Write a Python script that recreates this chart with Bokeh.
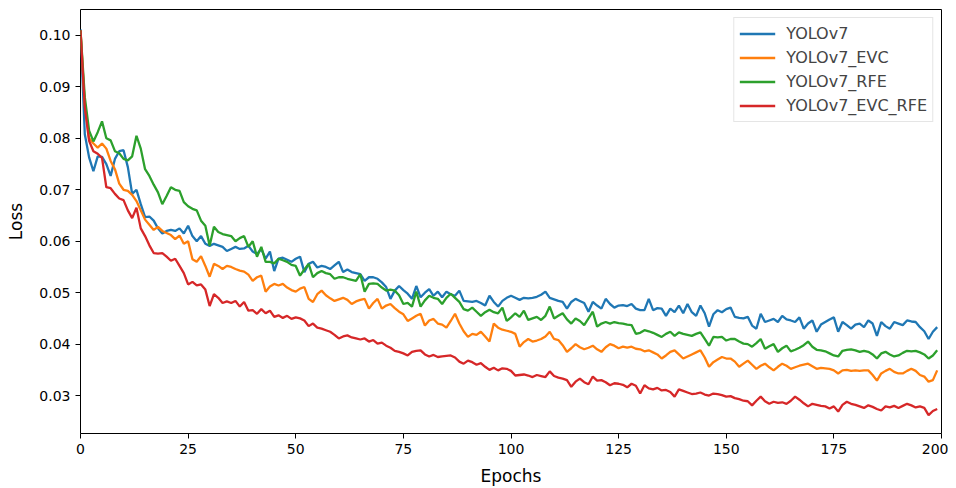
from bokeh.plotting import figure
from bokeh.models import Legend, LegendItem, Range1d, FixedTicker
from bokeh.embed import file_html
from bokeh.resources import INLINE

epochs = list(range(200))

yolov7 = [
    0.1012, 0.0808, 0.0763, 0.0736, 0.0765, 0.0764, 0.0750, 0.0727, 0.0760, 0.0775,
    0.0777, 0.0744, 0.0692, 0.0700, 0.0672, 0.0647, 0.0648, 0.0640, 0.0625, 0.0615,
    0.0620, 0.0622, 0.0620, 0.0625, 0.0615, 0.0630, 0.0610, 0.0600, 0.0610, 0.0595,
    0.0591, 0.0595, 0.0592, 0.0589, 0.0581, 0.0585, 0.0589, 0.0585, 0.0586, 0.0591,
    0.0580, 0.0575, 0.0585, 0.0566, 0.0580, 0.0542, 0.0566, 0.0568, 0.0564, 0.0560,
    0.0566, 0.0570, 0.0540, 0.0556, 0.0560, 0.0549, 0.0552, 0.0550, 0.0546, 0.0553,
    0.0560, 0.0540, 0.0545, 0.0540, 0.0538, 0.0536, 0.0523, 0.0530, 0.0530, 0.0527,
    0.0520, 0.0511, 0.0488, 0.0504, 0.0513, 0.0505, 0.0498, 0.0488, 0.0513, 0.0491,
    0.0500, 0.0507, 0.0494, 0.0502, 0.0491, 0.0502, 0.0497, 0.0494, 0.0504, 0.0484,
    0.0483, 0.0482, 0.0484, 0.0480, 0.0475, 0.0494, 0.0482, 0.0473, 0.0484, 0.0490,
    0.0494, 0.0490, 0.0486, 0.0490, 0.0489, 0.0490, 0.0492, 0.0496, 0.0502, 0.0490,
    0.0487, 0.0484, 0.0482, 0.0469, 0.0482, 0.0488, 0.0484, 0.0480, 0.0463, 0.0482,
    0.0475, 0.0469, 0.0488, 0.0478, 0.0471, 0.0475, 0.0476, 0.0474, 0.0478, 0.0469,
    0.0466, 0.0466, 0.0488, 0.0466, 0.0470, 0.0469, 0.0455, 0.0469, 0.0462, 0.0475,
    0.0460, 0.0478, 0.0462, 0.0455, 0.0475, 0.0460, 0.0434, 0.0458, 0.0466, 0.0462,
    0.0468, 0.0471, 0.0453, 0.0451, 0.0450, 0.0453, 0.0436, 0.0430, 0.0459, 0.0443,
    0.0446, 0.0449, 0.0443, 0.0455, 0.0448, 0.0446, 0.0443, 0.0452, 0.0430, 0.0440,
    0.0446, 0.0424, 0.0438, 0.0443, 0.0448, 0.0452, 0.0424, 0.0443, 0.0437, 0.0430,
    0.0438, 0.0440, 0.0433, 0.0446, 0.0440, 0.0416, 0.0443, 0.0435, 0.0430, 0.0443,
    0.0440, 0.0437, 0.0446, 0.0444, 0.0443, 0.0433, 0.0425, 0.0410, 0.0424, 0.0433,
]

yolov7_evc = [
    0.1010, 0.0866, 0.0800, 0.0790, 0.0782, 0.0790, 0.0780, 0.0756, 0.0740, 0.0712,
    0.0700, 0.0698, 0.0690, 0.0678, 0.0660, 0.0642, 0.0632, 0.0622, 0.0628, 0.0620,
    0.0616, 0.0612, 0.0604, 0.0611, 0.0595, 0.0600, 0.0565, 0.0560, 0.0571, 0.0552,
    0.0531, 0.0556, 0.0552, 0.0546, 0.0552, 0.0550, 0.0546, 0.0543, 0.0541, 0.0535,
    0.0523, 0.0530, 0.0533, 0.0502, 0.0512, 0.0517, 0.0514, 0.0517, 0.0510, 0.0505,
    0.0502, 0.0508, 0.0511, 0.0488, 0.0482, 0.0497, 0.0504, 0.0495, 0.0489, 0.0484,
    0.0487, 0.0490, 0.0486, 0.0478, 0.0483, 0.0486, 0.0488, 0.0469, 0.0480, 0.0488,
    0.0469, 0.0475, 0.0478, 0.0470, 0.0463, 0.0458, 0.0445, 0.0450, 0.0455, 0.0459,
    0.0436, 0.0446, 0.0449, 0.0440, 0.0438, 0.0432, 0.0445, 0.0459, 0.0440, 0.0425,
    0.0414, 0.0420, 0.0418, 0.0424, 0.0415, 0.0405, 0.0440, 0.0432, 0.0428, 0.0426,
    0.0424, 0.0420, 0.0395, 0.0404, 0.0410, 0.0405, 0.0407, 0.0410, 0.0415, 0.0424,
    0.0410, 0.0408, 0.0398, 0.0385, 0.0392, 0.0400, 0.0394, 0.0390, 0.0393, 0.0397,
    0.0390, 0.0385, 0.0394, 0.0400, 0.0397, 0.0392, 0.0395, 0.0393, 0.0395, 0.0391,
    0.0390, 0.0386, 0.0388, 0.0384, 0.0380, 0.0372, 0.0378, 0.0385, 0.0388, 0.0380,
    0.0372, 0.0376, 0.0380, 0.0384, 0.0388, 0.0374, 0.0356, 0.0365, 0.0370, 0.0375,
    0.0372, 0.0372, 0.0366, 0.0356, 0.0362, 0.0368, 0.0360, 0.0352, 0.0358, 0.0362,
    0.0355, 0.0349, 0.0356, 0.0362, 0.0358, 0.0352, 0.0355, 0.0358, 0.0360, 0.0362,
    0.0357, 0.0352, 0.0354, 0.0353, 0.0352, 0.0349, 0.0343, 0.0349, 0.0350, 0.0348,
    0.0349, 0.0348, 0.0349, 0.0349, 0.0340, 0.0329, 0.0343, 0.0348, 0.0352, 0.0346,
    0.0343, 0.0343, 0.0348, 0.0352, 0.0348, 0.0340, 0.0337, 0.0327, 0.0330, 0.0349,
]

yolov7_rfe = [
    0.1010, 0.0880, 0.0815, 0.0794, 0.0812, 0.0833, 0.0800, 0.0796, 0.0775, 0.0771,
    0.0760, 0.0757, 0.0765, 0.0805, 0.0780, 0.0740, 0.0727, 0.0710, 0.0695, 0.0672,
    0.0688, 0.0705, 0.0700, 0.0698, 0.0676, 0.0668, 0.0663, 0.0660, 0.0640, 0.0630,
    0.0591, 0.0628, 0.0618, 0.0614, 0.0612, 0.0610, 0.0600, 0.0606, 0.0610, 0.0589,
    0.0600, 0.0570, 0.0589, 0.0560, 0.0560, 0.0557, 0.0566, 0.0563, 0.0560, 0.0554,
    0.0552, 0.0533, 0.0545, 0.0556, 0.0530, 0.0538, 0.0542, 0.0538, 0.0536, 0.0527,
    0.0530, 0.0530, 0.0527, 0.0525, 0.0523, 0.0536, 0.0502, 0.0517, 0.0518, 0.0517,
    0.0510, 0.0504, 0.0506, 0.0504, 0.0495, 0.0478, 0.0480, 0.0473, 0.0502, 0.0473,
    0.0485, 0.0494, 0.0490, 0.0488, 0.0478, 0.0490, 0.0498, 0.0490, 0.0482, 0.0468,
    0.0465, 0.0471, 0.0463, 0.0455, 0.0462, 0.0467, 0.0462, 0.0460, 0.0471, 0.0445,
    0.0452, 0.0460, 0.0453, 0.0465, 0.0447, 0.0450, 0.0453, 0.0447, 0.0455, 0.0473,
    0.0450, 0.0455, 0.0460, 0.0448, 0.0440, 0.0450, 0.0445, 0.0437, 0.0450, 0.0463,
    0.0434, 0.0440, 0.0443, 0.0440, 0.0443, 0.0441, 0.0440, 0.0438, 0.0437, 0.0420,
    0.0422, 0.0427, 0.0425, 0.0422, 0.0418, 0.0414, 0.0420, 0.0424, 0.0416, 0.0423,
    0.0420, 0.0418, 0.0416, 0.0420, 0.0423, 0.0410, 0.0397, 0.0414, 0.0413, 0.0414,
    0.0407, 0.0410, 0.0410, 0.0405, 0.0401, 0.0400, 0.0395, 0.0402, 0.0410, 0.0391,
    0.0396, 0.0400, 0.0385, 0.0392, 0.0397, 0.0386, 0.0389, 0.0393, 0.0398, 0.0405,
    0.0395, 0.0389, 0.0388, 0.0386, 0.0382, 0.0378, 0.0376, 0.0387, 0.0389, 0.0390,
    0.0388, 0.0385, 0.0387, 0.0385, 0.0380, 0.0372, 0.0382, 0.0385, 0.0380, 0.0376,
    0.0378, 0.0383, 0.0387, 0.0386, 0.0387, 0.0384, 0.0380, 0.0372, 0.0378, 0.0388,
]

yolov7_evc_rfe = [
    0.1010, 0.0860, 0.0795, 0.0775, 0.0770, 0.0762, 0.0705, 0.0703, 0.0692, 0.0683,
    0.0680, 0.0660, 0.0645, 0.0665, 0.0625, 0.0610, 0.0592, 0.0577, 0.0576, 0.0577,
    0.0570, 0.0562, 0.0566, 0.0552, 0.0538, 0.0516, 0.0521, 0.0514, 0.0516, 0.0506,
    0.0474, 0.0497, 0.0490, 0.0480, 0.0483, 0.0480, 0.0484, 0.0473, 0.0482, 0.0465,
    0.0466, 0.0459, 0.0468, 0.0460, 0.0465, 0.0453, 0.0456, 0.0451, 0.0455, 0.0449,
    0.0452, 0.0450, 0.0446, 0.0435, 0.0440, 0.0432, 0.0430, 0.0427, 0.0424, 0.0418,
    0.0411, 0.0415, 0.0417, 0.0413, 0.0411, 0.0409, 0.0411, 0.0405, 0.0408, 0.0401,
    0.0403, 0.0397, 0.0393, 0.0387, 0.0385, 0.0382, 0.0378, 0.0385, 0.0387, 0.0388,
    0.0380, 0.0376, 0.0379, 0.0375, 0.0376, 0.0377, 0.0378, 0.0374, 0.0366, 0.0362,
    0.0368, 0.0365, 0.0360, 0.0363, 0.0356, 0.0350, 0.0354, 0.0349, 0.0353, 0.0352,
    0.0348, 0.0339, 0.0340, 0.0341, 0.0339, 0.0336, 0.0340, 0.0338, 0.0336, 0.0347,
    0.0338, 0.0335, 0.0333, 0.0330, 0.0317, 0.0327, 0.0333, 0.0326, 0.0322, 0.0337,
    0.0329, 0.0330, 0.0326, 0.0320, 0.0324, 0.0323, 0.0321, 0.0316, 0.0323, 0.0319,
    0.0304, 0.0320, 0.0314, 0.0312, 0.0315, 0.0310, 0.0311, 0.0307, 0.0298, 0.0312,
    0.0309, 0.0306, 0.0303, 0.0304, 0.0306, 0.0302, 0.0300, 0.0304, 0.0303, 0.0301,
    0.0298, 0.0299, 0.0295, 0.0293, 0.0290, 0.0289, 0.0281, 0.0290, 0.0298, 0.0289,
    0.0284, 0.0288, 0.0286, 0.0287, 0.0284, 0.0290, 0.0298, 0.0292, 0.0285, 0.0279,
    0.0284, 0.0282, 0.0280, 0.0279, 0.0275, 0.0279, 0.0269, 0.0282, 0.0288, 0.0284,
    0.0282, 0.0279, 0.0276, 0.0281, 0.0278, 0.0274, 0.0271, 0.0279, 0.0277, 0.0280,
    0.0276, 0.0280, 0.0284, 0.0281, 0.0277, 0.0279, 0.0276, 0.0262, 0.0270, 0.0274,
]

series_names = ["YOLOv7", "YOLOv7_EVC", "YOLOv7_RFE", "YOLOv7_EVC_RFE"]
series_values = [yolov7, yolov7_evc, yolov7_rfe, yolov7_evc_rfe]
colors = ["#1f77b4", "#ff7f0e", "#2ca02c", "#d62728"]
x_ticks = [0, 25, 50, 75, 100, 125, 150, 175, 200]
y_ticks = [0.03, 0.04, 0.05, 0.06, 0.07, 0.08, 0.09, 0.10]
y_tick_labels = {0.03: "0.03", 0.04: "0.04", 0.05: "0.05", 0.06: "0.06",
                 0.07: "0.07", 0.08: "0.08", 0.09: "0.09", 0.10: "0.10"}

p = figure(width=948, height=488, output_backend="svg", toolbar_location=None,
           x_range=Range1d(0, 200), y_range=Range1d(0.02263, 0.10504),
           min_border_left=80, min_border_right=7, min_border_top=9, min_border_bottom=54)

renderers = []
for name, vals, c in zip(series_names, series_values, colors):
    r = p.line(epochs, vals, line_color=c, line_width=2.3)
    renderers.append((name, r))

p.xgrid.visible = False
p.ygrid.visible = False
p.outline_line_color = "black"
p.outline_line_width = 1
p.outline_line_alpha = 1
p.background_fill_color = "white"
p.border_fill_color = "white"

for ax in (p.xaxis[0], p.yaxis[0]):
    ax.axis_line_color = None
    ax.major_tick_line_color = "black"
    ax.major_tick_out = 5
    ax.major_tick_in = 0
    ax.minor_tick_line_color = None
    ax.major_label_text_font = "DejaVu Sans"
    ax.major_label_text_font_size = "14px"
    ax.major_label_text_color = "black"
    ax.axis_label_text_font = "DejaVu Sans"
    ax.axis_label_text_font_size = "17px"
    ax.axis_label_text_font_style = "normal"
    ax.axis_label_text_color = "black"

p.xaxis.ticker = FixedTicker(ticks=x_ticks)
p.yaxis.ticker = FixedTicker(ticks=y_ticks)
p.yaxis.major_label_overrides = y_tick_labels
p.xaxis.axis_label = "Epochs"
p.yaxis.axis_label = "Loss"
p.xaxis.major_label_standoff = 5
p.xaxis.axis_label_standoff = 9
p.yaxis.major_label_standoff = 5
p.yaxis.axis_label_standoff = 10

legend = Legend(items=[LegendItem(label=n, renderers=[r]) for n, r in renderers],
                location="top_right")
legend.label_text_font = "DejaVu Sans"
legend.label_text_font_size = "16px"
legend.label_height = 21
legend.glyph_height = 21
legend.glyph_width = 36
legend.label_standoff = 11
legend.spacing = 3
legend.padding = 5
legend.margin = 8
legend.border_line_color = "#cccccc"
legend.border_line_width = 1
legend.background_fill_alpha = 0.8
p.add_layout(legend)

open("out.html", "w").write(file_html(p, INLINE))
